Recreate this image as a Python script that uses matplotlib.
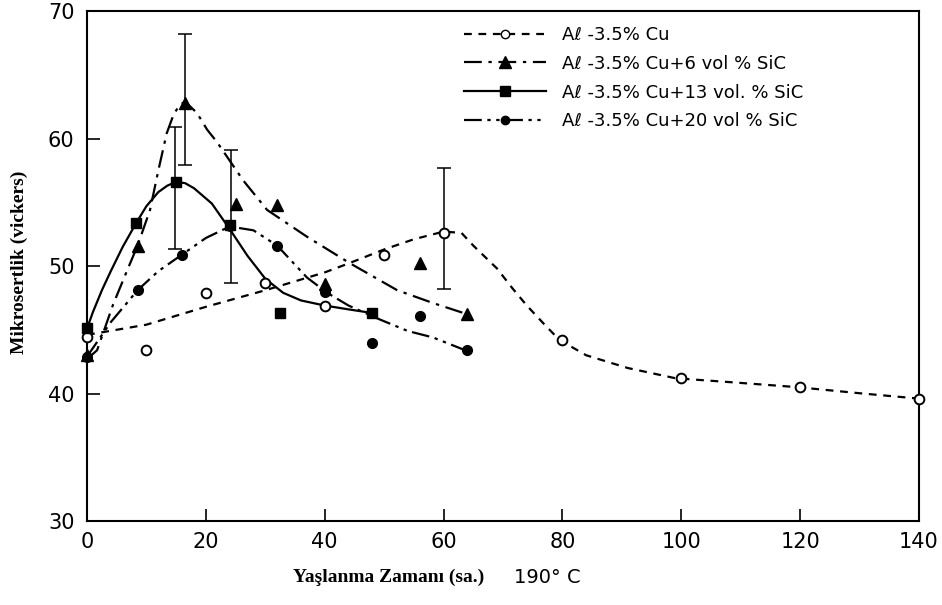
import matplotlib
matplotlib.use("Agg")
import matplotlib.pyplot as plt
from matplotlib.lines import Line2D

# measured points (markers)
cu_x = [0, 10, 20, 30, 40, 50, 60, 80, 100, 120, 140]
cu_y = [44.4, 43.4, 47.9, 48.7, 46.9, 50.9, 52.6, 44.2, 41.2, 40.5, 39.6]

sic6_x = [0, 8.5, 16.5, 25, 32, 40, 56, 64]
sic6_y = [43.0, 51.6, 62.8, 54.9, 54.8, 48.6, 50.2, 46.2]

sic13_x = [0, 8.3, 15, 24, 32.5, 48]
sic13_y = [45.1, 53.4, 56.6, 53.2, 46.3, 46.3]

sic20_x = [0, 8.5, 16, 24, 32, 40, 48, 56, 64]
sic20_y = [42.9, 48.1, 50.9, 53.1, 51.6, 48.0, 44.0, 46.1, 43.4]

# hand-drawn fit curves
cu_cx = [0, 5, 10, 20, 30, 40, 44, 50, 55, 60, 63, 65, 69, 71.5, 74, 77, 79.5,
         84, 91, 99, 108, 119.5, 130.5, 140]
cu_cy = [44.6, 45.0, 45.4, 46.8, 48.1, 49.5, 50.2, 51.3, 52.1, 52.7, 52.6, 51.6,
         49.8, 48.3, 46.9, 45.4, 44.2, 43.0, 42.0, 41.2, 40.9, 40.5, 40.0, 39.6]

sic6_cx = [0, 1.7, 4.4, 6.7, 8.5, 10.6, 12, 13.4, 14.5, 15.5, 16.5, 18.5, 20.2,
           21.9, 26.3, 30.3, 37, 44.3, 52.2, 58.2, 64.1]
sic6_cy = [42.7, 43.4, 47.0, 49.6, 51.6, 54.4, 57.5, 60.4, 61.8, 62.6, 62.9,
           62.0, 60.7, 59.7, 56.7, 54.4, 52.3, 50.2, 48.1, 47.1, 46.2]

sic13_cx = [0, 1, 2.5, 4, 6, 8.3, 10, 12, 13.5, 15, 16.5, 18, 21, 24, 27, 30,
            33, 36, 40, 44, 48.2]
sic13_cy = [45.1, 46.4, 48.1, 49.6, 51.5, 53.4, 54.7, 55.8, 56.3, 56.6, 56.5,
            56.1, 54.9, 52.9, 50.8, 49.0, 47.9, 47.3, 46.9, 46.6, 46.3]

sic20_cx = [0, 4, 8.5, 12, 16, 20, 24, 28, 32, 37, 40.4, 44, 49.3, 54, 58.2, 63.6]
sic20_cy = [42.9, 45.6, 48.1, 49.6, 50.9, 52.2, 53.1, 52.8, 51.6, 49.1, 47.9,
            46.9, 45.8, 44.9, 44.4, 43.4]

# error bars: x, low, high
err_x = [16.5, 14.8, 24.2, 60.1]
err_lo = [57.9, 51.3, 48.7, 48.2]
err_hi = [68.2, 60.9, 59.1, 57.7]

labels = ["A\u2113 -3.5% Cu",
          "A\u2113 -3.5% Cu+6 vol % SiC",
          "A\u2113 -3.5% Cu+13 vol. % SiC",
          "A\u2113 -3.5% Cu+20 vol % SiC"]

k = "black"
lw = 1.6
st_cu = dict(color=k, lw=lw, dashes=[3.5, 3])
st_6 = dict(color=k, lw=lw, dashes=[8, 3, 1.5, 3])
st_13 = dict(color=k, lw=lw, linestyle="-")
st_20 = dict(color=k, lw=lw, dashes=[8, 2.5, 1.5, 2.5, 1.5, 2.5])

fig = plt.figure(figsize=(9.42, 6.05), dpi=100)
ax = fig.add_axes([0.0924, 0.1388, 0.8832, 0.843])

ax.plot(cu_cx, cu_cy, **st_cu)
ax.plot(sic6_cx, sic6_cy, **st_6)
ax.plot(sic13_cx, sic13_cy, **st_13)
ax.plot(sic20_cx, sic20_cy, **st_20)

ax.plot(cu_x, cu_y, "o", ms=7, mfc="white", mec=k, mew=1.4, clip_on=False, zorder=5)
ax.plot(sic6_x, sic6_y, "^", ms=8, color=k, clip_on=False, zorder=5)
ax.plot(sic13_x, sic13_y, "s", ms=7, color=k, clip_on=False, zorder=5)
ax.plot(sic20_x, sic20_y, "o", ms=7, color=k, clip_on=False, zorder=5)

mid = [(a + b) / 2 for a, b in zip(err_lo, err_hi)]
half = [(b - a) / 2 for a, b in zip(err_lo, err_hi)]
ax.errorbar(err_x, mid, yerr=half, fmt="none", ecolor=k, elinewidth=1.1,
            capsize=5, capthick=1.1)

handles = [
    Line2D([], [], marker="o", ms=6, mfc="white", mec=k, **st_cu),
    Line2D([], [], marker="^", ms=8, mfc=k, mec=k, **st_6),
    Line2D([], [], marker="s", ms=7, mfc=k, mec=k, **st_13),
    Line2D([], [], marker="o", ms=6, mfc=k, mec=k, **st_20),
]
ax.legend(handles, labels, loc="upper left", bbox_to_anchor=(0.445, 0.985),
          frameon=False, fontsize=13, handlelength=4.5, handletextpad=0.9,
          labelspacing=0.6, borderaxespad=0)

ax.set_xlim(0, 140)
ax.set_ylim(30, 70)
ax.set_xticks(range(0, 141, 20))
ax.set_yticks(range(30, 71, 10))
ax.tick_params(direction="in", length=9, width=1.2, labelsize=15)
ax.tick_params(axis="y", pad=9)
ax.tick_params(axis="x", pad=8)
for s in ax.spines.values():
    s.set_linewidth(1.5)

fig.text(0.021, 0.567, "Mikrosertlik (vickers)", rotation=90, ha="center",
         va="center", family="Liberation Serif", weight="bold", fontsize=14)
fig.text(0.413, 0.045, "Ya\u015flanma Zaman\u0131 (sa.)", ha="center", va="center",
         family="Liberation Serif", weight="bold", fontsize=14)
fig.text(0.581, 0.045, "190\u00b0 C", ha="center", va="center", fontsize=14)

fig.savefig("out.png", dpi=100)
